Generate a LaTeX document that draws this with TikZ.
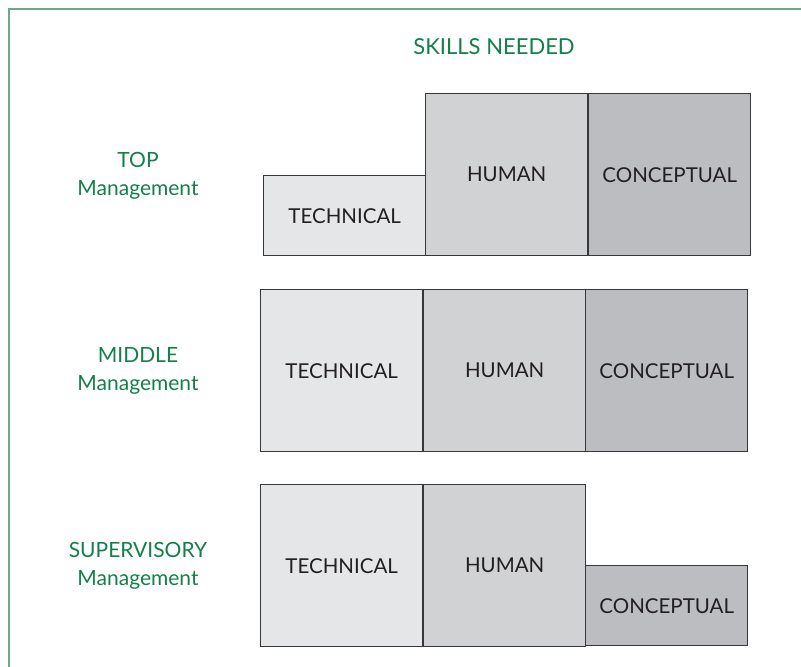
\documentclass[tikz,border=0pt]{standalone}
\usepackage{fontspec}
\setmainfont{Lato}
\definecolor{tech}{RGB}{229,230,231}
\definecolor{hum}{RGB}{209,210,212}
\definecolor{conc}{RGB}{188,189,192}
\definecolor{edge}{RGB}{55,55,57}
\definecolor{grn}{RGB}{18,128,72}
\definecolor{frame}{RGB}{106,170,136}
\definecolor{ink}{RGB}{35,31,32}
\tikzset{
  skillbox/.style={draw=edge, line width=1.4pt, anchor=north west, minimum width=162pt, inner sep=0pt, font=\fontsize{20.5}{22}\selectfont, text=ink},
  lvl/.style={text=grn, font=\fontsize{21}{23}\selectfont, align=center, inner sep=0pt}
}
\begin{document}
\begin{tikzpicture}[x=1pt,y=-1pt]
\useasboundingbox (0,0) rectangle (801,667);
\draw[frame, line width=2.4pt] (9,667) -- (9,9) -- (801,9);
\node[lvl, font=\fontsize{22}{24}\selectfont] (title) at (494,47) {SKILLS NEEDED};
% Top
\node[lvl] (top) at (138,160) {TOP};
\node[lvl] (topm) at (138,190) {Management};
\node[skillbox, fill=tech, minimum height=80pt] (t1) at (263,175) {TECHNICAL};
\node[skillbox, fill=hum, minimum height=162pt] (t2) at (425,93) {HUMAN};
\node[skillbox, fill=conc, minimum height=162pt] (t3) at (588,93) {CONCEPTUAL};
% Middle
\node[lvl] (mid) at (138,355) {MIDDLE};
\node[lvl] (midm) at (138,385) {Management};
\node[skillbox, fill=tech, minimum height=162pt] (m1) at (260,289) {TECHNICAL};
\node[skillbox, fill=hum, minimum height=162pt] (m2) at (423,289) {HUMAN};
\node[skillbox, fill=conc, minimum height=162pt] (m3) at (585,289) {CONCEPTUAL};
% Supervisory
\node[lvl] (sup) at (138,550) {SUPERVISORY};
\node[lvl] (supm) at (138,580) {Management};
\node[skillbox, fill=tech, minimum height=162pt] (s1) at (260,484) {TECHNICAL};
\node[skillbox, fill=hum, minimum height=162pt] (s2) at (423,484) {HUMAN};
\node[skillbox, fill=conc, minimum height=80pt] (s3) at (585,565) {CONCEPTUAL};
\end{tikzpicture}
\end{document}
